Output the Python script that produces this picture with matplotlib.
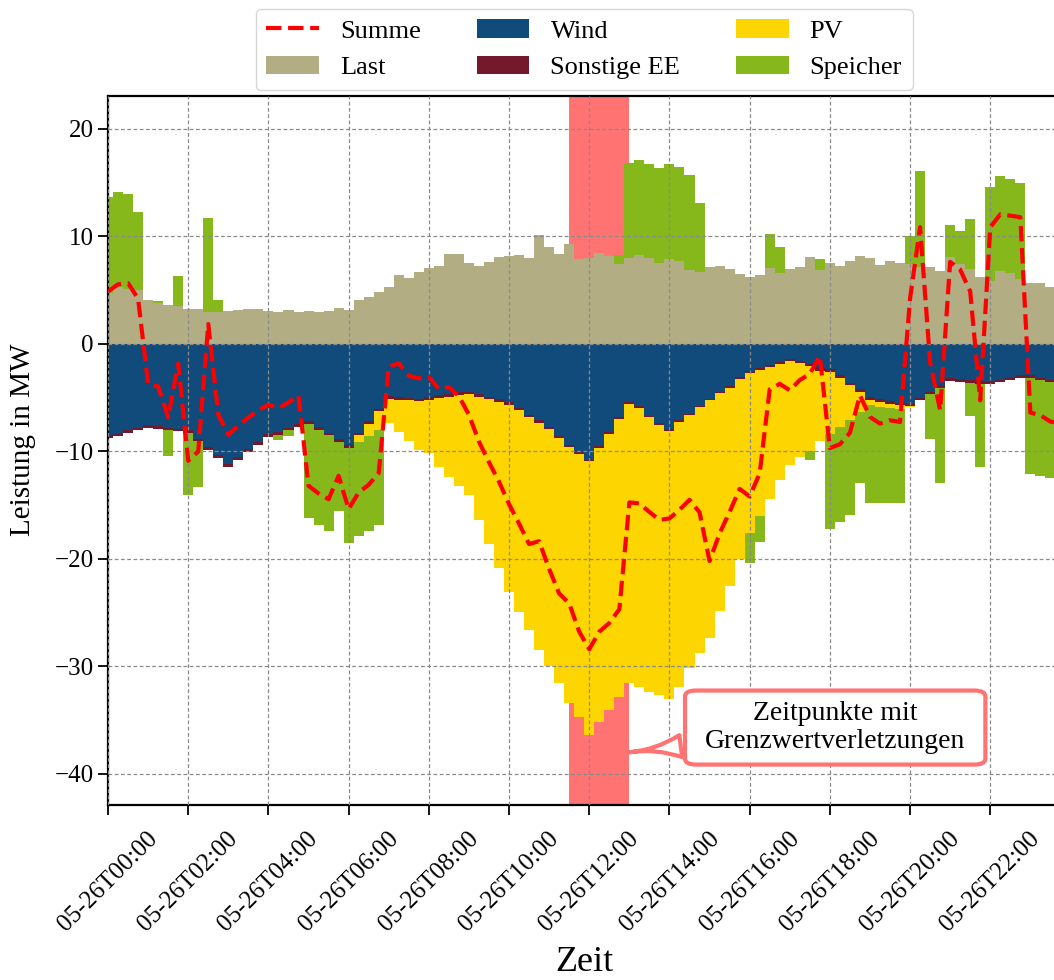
import matplotlib
matplotlib.use("Agg")
import matplotlib.pyplot as plt
import matplotlib.dates as mdates
import numpy as np
import pandas as pd

plt.rcParams['font.family'] = ['Liberation Serif', 'DejaVu Serif']

# 15-Minuten-Werte für einen Tag
zeit = pd.date_range('2023-05-26 00:00', periods=96, freq='15min')

last = [
    4.71, 5.27, 5.08, 5.02, 4.09, 3.78, 3.63, 3.47,
    3.22, 3.26, 2.91, 2.98, 3.00, 3.16, 3.22, 3.22,
    3.00, 2.95, 3.10, 2.91, 3.00, 2.91, 3.00, 3.32,
    3.16, 4.09, 4.34, 4.81, 5.27, 6.42, 6.11, 6.64,
    7.08, 7.24, 8.31, 8.37, 7.48, 7.24, 7.57, 8.07,
    8.14, 8.21, 7.97, 10.13, 9.04, 8.37, 9.24, 7.91,
    7.99, 8.42, 8.12, 7.44, 7.99, 8.21, 7.99, 7.48,
    7.91, 7.69, 6.84, 6.71, 7.14, 7.26, 6.92, 6.50,
    6.19, 6.35, 7.06, 6.56, 6.97, 7.12, 8.05, 6.90,
    7.49, 7.21, 7.65, 8.14, 7.96, 7.34, 7.65, 7.49,
    7.43, 7.12, 7.12, 6.81, 8.05, 7.43, 6.97, 6.19,
    5.82, 6.81, 6.56, 6.04, 5.67, 5.67, 5.26, 5.20,
]

wind = [
    -8.53, -8.37, -8.06, -7.81, -7.59, -7.69, -7.81, -7.91,
    -8.06, -8.84, -9.61, -10.39, -11.22, -10.54, -9.83, -9.15,
    -8.43, -8.22, -7.81, -7.50, -7.19, -7.75, -8.28, -8.90,
    -9.46, -8.28, -7.19, -6.04, -4.90, -4.95, -5.02, -5.11,
    -5.00, -4.80, -4.67, -4.50, -4.47, -4.67, -4.93, -5.17,
    -5.46, -5.96, -6.59, -7.13, -7.72, -8.62, -9.42, -10.08,
    -10.79, -9.51, -8.23, -6.82, -5.41, -5.83, -6.69, -7.37,
    -7.97, -7.11, -6.52, -5.75, -5.11, -4.47, -3.95, -3.10,
    -2.55, -2.26, -2.02, -1.71, -1.46, -1.65, -1.85, -2.29,
    -2.38, -2.91, -3.62, -4.24, -4.95, -5.17, -5.32, -5.48,
    -5.57, -5.01, -4.46, -3.87, -3.22, -3.31, -3.40, -3.47,
    -3.53, -3.34, -3.16, -2.91, -2.91, -3.16, -3.34, -3.35,
]

sonstige = [
    -0.25, -0.25, -0.25, -0.25, -0.25, -0.25, -0.25, -0.25,
    -0.25, -0.25, -0.25, -0.25, -0.25, -0.25, -0.25, -0.25,
    -0.25, -0.25, -0.25, -0.25, -0.25, -0.25, -0.25, -0.25,
    -0.25, -0.25, -0.25, -0.25, -0.25, -0.25, -0.25, -0.25,
    -0.25, -0.25, -0.25, -0.25, -0.25, -0.25, -0.25, -0.25,
    -0.25, -0.25, -0.25, -0.25, -0.25, -0.15, -0.15, -0.15,
    -0.15, -0.15, -0.15, -0.15, -0.15, -0.15, -0.15, -0.15,
    -0.15, -0.15, -0.15, -0.15, -0.15, -0.15, -0.15, -0.15,
    -0.15, -0.15, -0.15, -0.15, -0.15, -0.15, -0.25, -0.25,
    -0.25, -0.25, -0.25, -0.25, -0.25, -0.25, -0.25, -0.25,
    -0.25, -0.25, -0.25, -0.25, -0.25, -0.25, -0.25, -0.25,
    -0.25, -0.25, -0.25, -0.25, -0.25, -0.25, -0.25, -0.25,
]

pv = [
    0, 0, 0, 0, 0, 0, 0, 0,
    0, 0, 0, 0, 0, 0, 0, 0,
    0, 0, 0, 0, 0, 0, 0, 0,
    0, -0.65, -1.18, -1.70, -2.23, -3.05, -3.82, -4.50,
    -4.95, -6.38, -7.44, -8.51, -9.37, -11.43, -13.42, -15.48,
    -17.35, -18.74, -19.76, -21.12, -22.03, -22.83, -23.83, -24.47,
    -25.46, -25.54, -25.72, -25.93, -26.04, -25.92, -25.56, -25.18,
    -24.88, -24.64, -23.53, -22.90, -22.09, -20.28, -18.46, -16.75,
    -14.90, -13.59, -12.23, -10.84, -9.69, -8.70, -7.90, -6.50,
    -5.79, -4.58, -3.25, -1.86, -0.53, -0.46, -0.37, -0.31,
    -0.05, 0, 0, 0, 0, 0, 0, 0,
    0, 0, 0, 0, 0, 0, 0, 0,
]

# Speicher: Entladen (positiv) und Laden (negativ)
speicher_plus = [
    8.93, 8.87, 8.87, 7.22, 0, 0.19, 0, 2.85,
    0, 0, 8.78, 1.05, 0, 0, 0, 0,
    0, 0, 0, 0, 0, 0, 0, 0,
    0, 0, 0, 0, 0, 0, 0, 0,
    0, 0, 0, 0, 0, 0, 0, 0,
    0, 0, 0, 0, 0, 0, 0, 0,
    0, 0, 0, 0.77, 8.85, 8.84, 8.76, 8.84,
    8.84, 8.76, 8.84, 6.41, 0, 0, 0, 0,
    0, 0, 3.10, 2.41, 0, 0, 0, 0.99,
    0, 0, 0, 0, 0, 0, 0, 0,
    2.63, 8.98, 0, 0, 3.03, 3.03, 4.64, 0,
    8.79, 8.82, 8.76, 8.89, 0, 0, 0, 0,
]

speicher_minus = [
    0, 0, 0, 0, 0, 0, -2.42, 0,
    -5.80, -4.19, 0, 0, 0, 0, 0, 0,
    0, -0.47, -0.50, 0, -8.78, -8.84, -8.93, -6.45,
    -8.84, -8.74, -8.84, -8.84, 0, 0, 0, 0,
    0, 0, 0, 0, 0, 0, 0, 0,
    0, 0, 0, 0, 0, 0, 0, 0,
    0, 0, 0, 0, 0, 0, 0, 0,
    0, 0, 0, 0, 0, 0, 0, 0,
    -2.80, -2.40, 0, 0, 0, 0, -0.85, 0,
    -8.78, -8.82, -8.82, -6.59, -9.04, -8.89, -8.83, -8.73,
    0, 0, -4.11, -8.88, 0, 0, -3.10, -7.74,
    0, 0, 0, 0, -8.92, -8.91, -8.91, -9.00,
]

verletzung_start = pd.Timestamp('2023-05-26 11:30')
verletzung_ende = pd.Timestamp('2023-05-26 13:00')

farben = {
    'Last': '#b3ad84',
    'Wind': '#114b7b',
    'Sonstige EE': '#74182c',
    'PV': '#fdd500',
    'Speicher': '#86b81c',
}
rot_hell = '#ff7373'

last = np.array(last)
wind = np.array(wind)
sonstige = np.array(sonstige)
pv = np.array(pv)
sp_plus = np.array(speicher_plus)
sp_minus = np.array(speicher_minus)
summe = last + sp_plus + wind + sonstige + pv + sp_minus

x = mdates.date2num(zeit)
breite = 1 / 96

fig = plt.figure(figsize=(10.54, 9.8), dpi=100)
ax = fig.add_axes([0.1025, 0.1786, 0.9036, 0.7230])

ax.axvspan(mdates.date2num(verletzung_start), mdates.date2num(verletzung_ende),
           color=rot_hell, lw=0, zorder=0.5)

b_last = ax.bar(x, last, breite, color=farben['Last'], lw=0, label='Last')
b_sp = ax.bar(x, sp_plus, breite, bottom=last, color=farben['Speicher'], lw=0,
              label='Speicher')
b_wind = ax.bar(x, wind, breite, color=farben['Wind'], lw=0, label='Wind')
b_sonst = ax.bar(x, sonstige, breite, bottom=wind, color=farben['Sonstige EE'],
                 lw=0, label='Sonstige EE')
b_pv = ax.bar(x, pv, breite, bottom=wind + sonstige, color=farben['PV'], lw=0,
              label='PV')
ax.bar(x, sp_minus, breite, bottom=wind + sonstige + pv, color=farben['Speicher'],
       lw=0)
l_summe, = ax.plot(x, summe, color='red', ls='--', lw=3, zorder=3, label='Summe')

ax.set_xlim(x[0], x[-1])
ax.set_ylim(-42.9, 23.0)
ax.set_yticks([-40, -30, -20, -10, 0, 10, 20])

ax.xaxis.set_major_locator(mdates.HourLocator(byhour=range(0, 24, 2)))
ax.xaxis.set_major_formatter(mdates.DateFormatter('%m-%dT%H:%M'))
ax.tick_params(axis='both', labelsize=18, length=7, width=1.3)
ax.tick_params(axis='x', pad=9)
plt.setp(ax.get_xticklabels(), rotation=45)

ax.set_axisbelow(False)
ax.grid(True, ls=(0, (3, 2)), color='#8a8a8a', lw=0.9)
for s in ax.spines.values():
    s.set_linewidth(1.6)

ax.set_ylabel('Leistung in MW', fontsize=21)
ax.yaxis.set_label_coords(-0.0756, 0.515)
ax.set_xlabel('Zeit', fontsize=26, labelpad=8)

ax.legend([l_summe, b_last, b_wind, b_sonst, b_pv, b_sp],
          ['Summe', 'Last', 'Wind', 'Sonstige EE', 'PV', 'Speicher'],
          ncol=3, loc='lower center', bbox_to_anchor=(0.5, 1.0),
          fontsize=19, handlelength=2.0, columnspacing=2.1, borderaxespad=0.25)

ax.annotate('Zeitpunkte mit\nGrenzwertverletzungen',
            xy=(mdates.date2num(verletzung_ende), -38.0),
            xytext=(mdates.date2num(pd.Timestamp('2023-05-26 18:08')), -35.7),
            fontsize=20, ha='center', va='center', multialignment='center',
            linespacing=1.15,
            bbox=dict(boxstyle='round,pad=0.72,rounding_size=0.4',
                      mutation_aspect=0.53, fc='white', ec=rot_hell, lw=3),
            arrowprops=dict(arrowstyle='wedge,tail_width=0.8,shrink_factor=0.2',
                            fc='white', ec=rot_hell, lw=3, shrinkB=0),
            zorder=5)

fig.savefig('out.png', dpi=100)
